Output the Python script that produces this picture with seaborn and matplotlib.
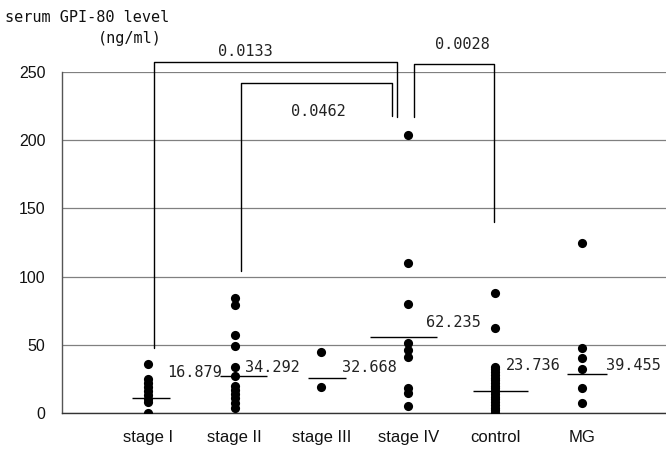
import numpy as np
import pandas as pd
import matplotlib
matplotlib.use("Agg")
import matplotlib.pyplot as plt
import seaborn as sns

# serum GPI-80 level (ng/ml) by group
groups = ["stage I", "stage II", "stage III", "stage IV", "control", "MG"]
stage1 = [36, 25, 22, 19, 16, 13, 10, 8, 0]
stage2 = [84, 79, 57, 49, 34, 27, 20, 17, 14, 11, 7, 4]
stage3 = [45, 19]
stage4 = [204, 110, 80, 51, 46, 41, 18, 15, 5]
control = [88, 62, 34, 32, 30, 28, 26, 24, 22, 20, 18, 16, 14, 12, 10, 8, 6, 4, 2, 0]
mg = [125, 48, 40, 32, 18, 7]

# horizontal bar level per group and the printed value beside it
line_levels = [11, 27, 26, 56, 16, 28.6]
value_labels = ["16.879", "34.292", "32.668", "62.235", "23.736", "39.455"]

# p-values for the brackets: (group a, group b, text)
comparisons = [("stage I", "stage IV", "0.0133"),
               ("stage II", "stage IV", "0.0462"),
               ("stage IV", "control", "0.0028")]

values = [stage1, stage2, stage3, stage4, control, mg]
df = pd.DataFrame({
    "group": [g for g, v in zip(groups, values) for _ in v],
    "level": [x for v in values for x in v],
})

sns.set_style("white")
mono = "DejaVu Sans Mono"
sans = "Liberation Sans"

fig = plt.figure(figsize=(6.66, 4.51), dpi=100)
ax = fig.add_axes([62 / 666, 38 / 451, 604 / 666, 341 / 451])

sns.stripplot(data=df, x="group", y="level", order=groups, jitter=False,
              color="black", size=6.6, linewidth=0, ax=ax, zorder=3)

# bars beside the points
left_off = [-0.18, -0.17, -0.16, -0.44, -0.25, -0.17]
right_off = [0.25, 0.37, 0.28, 0.33, 0.38, 0.29]
for i, lvl in enumerate(line_levels):
    ax.hlines(lvl, i + left_off[i], i + right_off[i], color="black", lw=1.0, zorder=4)

label_pos = [(0.22, 30), (1.12, 33), (2.24, 33), (3.2, 66), (4.13, 35), (5.28, 35)]
for (x, y), txt in zip(label_pos, value_labels):
    ax.text(x, y, txt, ha="left", va="center", fontsize=11, family=mono, color="#222222")

# significance brackets
idx = {g: i for i, g in enumerate(groups)}
bracket_geom = [
    # dx_left, dx_right, top, left bottom, right bottom, text x, text y
    (0.07, -0.13, 257, 48, 217, 1.12, 265),
    (0.07, -0.19, 242, 104, 218, 1.96, 221),
    (0.07, -0.01, 256, 217, 140, 3.62, 270),
]
for (a, b, txt), (dl, dr, top, lb, rb, tx, ty) in zip(comparisons, bracket_geom):
    xa, xb = idx[a] + dl, idx[b] + dr
    ax.plot([xa, xa, xb, xb], [lb, top, top, rb], color="black", lw=1.0,
            clip_on=False, zorder=5)
    ax.text(tx, ty, txt, ha="center", va="center", fontsize=11, family=mono,
            color="#222222", clip_on=False)

ax.set_xlim(-0.99, 5.97)
ax.set_ylim(0, 250)
ax.set_yticks([0, 50, 100, 150, 200, 250])
ax.yaxis.grid(True, color="#808080", lw=0.9)
ax.set_axisbelow(True)
ax.set_xlabel("")
ax.set_ylabel("")

for s in ["top", "right"]:
    ax.spines[s].set_visible(False)
ax.spines["left"].set_color("#555555")
ax.spines["bottom"].set_color("#333333")
ax.spines["left"].set_linewidth(1.0)
ax.spines["bottom"].set_linewidth(1.0)

ax.tick_params(axis="x", direction="in", length=4, color="#888888", pad=12,
               labelsize=12)
ax.tick_params(axis="y", length=0, pad=12, labelsize=11.5)
for lab in ax.get_xticklabels() + ax.get_yticklabels():
    lab.set_family(sans)
    lab.set_color("#111111")

fig.text(5 / 666, 1 - 18 / 451, "serum GPI-80 level", ha="left", va="center",
         fontsize=11, family=mono, color="#111111")
fig.text(130 / 666, 1 - 38 / 451, "(ng/ml)", ha="center", va="center",
         fontsize=11, family=mono, color="#111111")

fig.savefig("out.png", dpi=100)
